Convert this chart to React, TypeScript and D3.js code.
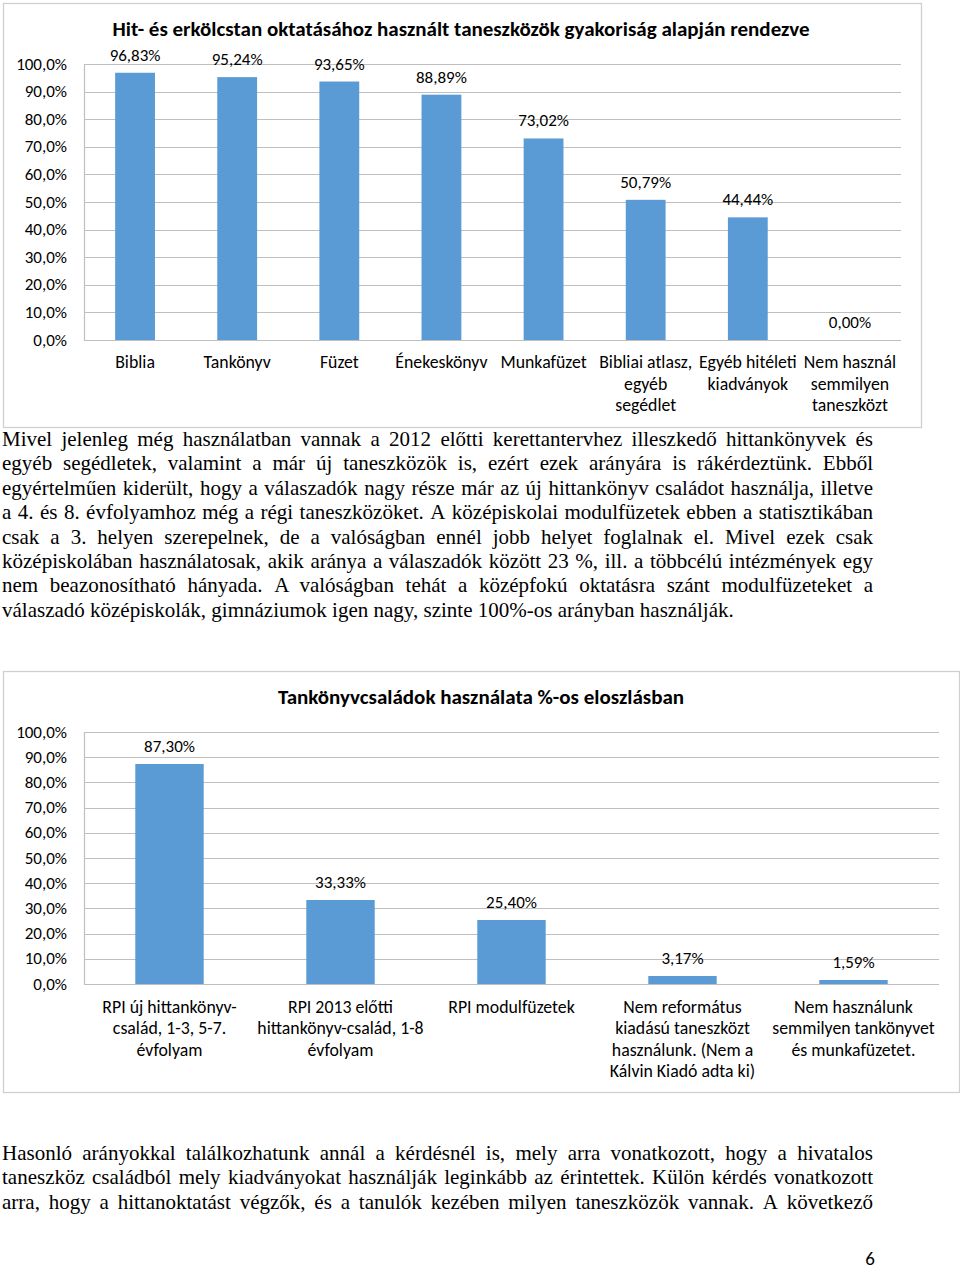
import React, { useEffect, useRef } from "react";
import * as d3 from "d3";

// ---------- DATA ----------
const chart1Title = "Hit- és erkölcstan oktatásához használt taneszközök gyakoriság alapján rendezve";
const chart1Categories: string[][] = [
  ["Biblia"],
  ["Tankönyv"],
  ["Füzet"],
  ["Énekeskönyv"],
  ["Munkafüzet"],
  ["Bibliai atlasz,", "egyéb", "segédlet"],
  ["Egyéb hitéleti", "kiadványok"],
  ["Nem használ", "semmilyen", "taneszközt"],
];
const chart1Values = [96.83, 95.24, 93.65, 88.89, 73.02, 50.79, 44.44, 0.0];

const chart2Title = "Tankönyvcsaládok használata %-os eloszlásban";
const chart2Categories: string[][] = [
  ["RPI új hittankönyv-", "család, 1-3, 5-7.", "évfolyam"],
  ["RPI 2013 előtti", "hittankönyv-család, 1-8", "évfolyam"],
  ["RPI modulfüzetek"],
  ["Nem református", "kiadású taneszközt", "használunk. (Nem a", "Kálvin Kiadó adta ki)"],
  ["Nem használunk", "semmilyen tankönyvet", "és munkafüzetet."],
];
const chart2Values = [87.3, 33.33, 25.4, 3.17, 1.59];

const yTicks = [0, 10, 20, 30, 40, 50, 60, 70, 80, 90, 100];

const para1Lines = [
  "Mivel jelenleg még használatban vannak a 2012 előtti kerettantervhez illeszkedő hittankönyvek és",
  "egyéb segédletek, valamint a már új taneszközök is, ezért ezek arányára is rákérdeztünk. Ebből",
  "egyértelműen kiderült, hogy a válaszadók nagy része már az új hittankönyv családot használja, illetve",
  "a 4. és 8. évfolyamhoz még a régi taneszközöket. A középiskolai modulfüzetek ebben a statisztikában",
  "csak a 3. helyen szerepelnek, de a valóságban ennél jobb helyet foglalnak el. Mivel ezek csak",
  "középiskolában használatosak, akik aránya a válaszadók között 23 %, ill. a többcélú intézmények egy",
  "nem beazonosítható hányada. A valóságban tehát a középfokú oktatásra szánt modulfüzeteket a",
  "válaszadó középiskolák, gimnáziumok igen nagy, szinte 100%-os arányban használják.",
];
const para2Lines = [
  "Hasonló arányokkal találkozhatunk annál a kérdésnél is, mely arra vonatkozott, hogy a hivatalos",
  "taneszköz családból mely kiadványokat használják leginkább az érintettek. Külön kérdés vonatkozott",
  "arra, hogy a hittanoktatást végzők, és a tanulók kezében milyen taneszközök vannak. A következő",
];
const pageNumber = "6";

// ---------- STYLE ----------
const SANS = "Carlito, Calibri, Lato, sans-serif";
const SERIF = "'Liberation Serif', 'Times New Roman', serif";
const BAR = "#5B9BD5";
const GRID = "#BFBFBF";
const FRAME = "#D0D0D0";
const TXT = "#000";
const PARA_SIZE = 21;

type ChartProps = {
  frame: { x: number; y: number; w: number; h: number };
  plot: { left: number; right: number; top: number; bottom: number };
  title: string;
  titleX: number;
  titleY: number;
  titleSize: number;
  categories: string[][];
  values: number[];
  padding: number;
  catY: number;
  catLine: number;
};

function BarChart(p: ChartProps) {
  const x = d3
    .scaleBand<number>()
    .domain(p.values.map((_, i) => i))
    .range([p.plot.left, p.plot.right])
    .paddingInner(p.padding)
    .paddingOuter(p.padding / 2);
  const y = d3.scaleLinear().domain([0, 100]).range([p.plot.bottom, p.plot.top]);
  const fmtTick = (v: number) => v.toFixed(1).replace(".", ",") + "%";
  const fmtVal = (v: number) => v.toFixed(2).replace(".", ",") + "%";
  return (
    <g>
      <rect x={p.frame.x + 0.5} y={p.frame.y + 0.5} width={p.frame.w} height={p.frame.h} fill="#fff" stroke={FRAME} strokeWidth={1.3} />
      <text x={p.titleX} y={p.titleY} textAnchor="middle" fontFamily={SANS} fontWeight="bold" fontSize={p.titleSize} fill={TXT}>
        {p.title}
      </text>
      {yTicks.map((t) => (
        <g key={t}>
          <line x1={p.plot.left} x2={p.plot.right} y1={Math.round(y(t)) + 0.5} y2={Math.round(y(t)) + 0.5} stroke={GRID} strokeWidth={1.2} />
          <text x={p.plot.left - 17} y={y(t) + 5.5} textAnchor="end" fontFamily={SANS} fontSize={17} fill={TXT}>
            {fmtTick(t)}
          </text>
        </g>
      ))}
      <line x1={p.plot.left + 0.5} x2={p.plot.left + 0.5} y1={p.plot.top} y2={p.plot.bottom} stroke={GRID} strokeWidth={1.2} />
      {p.values.map((v, i) => (
        <g key={i}>
          <rect x={x(i)!} y={y(v)} width={x.bandwidth()} height={y(0) - y(v)} fill={BAR} />
          <text x={x(i)! + x.bandwidth() / 2} y={y(v) - 12} textAnchor="middle" fontFamily={SANS} fontSize={17} fill={TXT}>
            {fmtVal(v)}
          </text>
          {p.categories[i].map((ln, k) => (
            <text key={k} x={x(i)! + x.bandwidth() / 2} y={p.catY + k * p.catLine} textAnchor="middle" fontFamily={SANS} fontSize={17.8} fill={TXT}>
              {ln}
            </text>
          ))}
        </g>
      ))}
    </g>
  );
}

function Paragraph({ lines, startY, lineH, left, right, lastJustify }: { lines: string[]; startY: number; lineH: number; left: number; right: number; lastJustify: boolean }) {
  const ref = useRef<SVGGElement>(null);
  useEffect(() => {
    const g = d3.select(ref.current);
    g.selectAll("*").remove();
    lines.forEach((line, li) => {
      const words = line.split(" ");
      const t = g
        .append("text")
        .attr("y", startY + li * lineH)
        .attr("font-family", SERIF)
        .attr("font-size", PARA_SIZE)
        .attr("fill", "#000");
      const justify = li < lines.length - 1 || lastJustify;
      const spans = words.map((w) => t.append("tspan").text(w));
      const widths = spans.map((s) => (s.node() as SVGTSpanElement).getComputedTextLength());
      const total = d3.sum(widths);
      const spaceW = PARA_SIZE * 0.25;
      let gap = justify && words.length > 1 ? (right - left - total) / (words.length - 1) : spaceW;
      let scale = 1;
      if (gap < 2.5) {
        // too tight: compress glyphs slightly
        gap = 2.5;
        scale = (right - left - gap * (words.length - 1)) / total;
      }
      let cx = left;
      spans.forEach((s, i) => {
        s.attr("x", cx);
        if (scale !== 1) s.attr("textLength", widths[i] * scale).attr("lengthAdjust", "spacingAndGlyphs");
        cx += widths[i] * scale + gap;
      });
    });
  }, [lines, startY, lineH, left, right, lastJustify]);
  return <g ref={ref} />;
}

export default function App() {
  return (
    <svg width={960} height={1271} style={{ position: "absolute", left: 0, top: 0, background: "#fff" }}>
      <BarChart
        frame={{ x: 3, y: 3, w: 918, h: 424 }}
        plot={{ left: 84, right: 901, top: 64, bottom: 340 }}
        title={chart1Title}
        titleX={461}
        titleY={36}
        titleSize={21}
        categories={chart1Categories}
        values={chart1Values}
        padding={0.61}
        catY={368}
        catLine={21.5}
      />
      <Paragraph lines={para1Lines} startY={446} lineH={24.4} left={2} right={873} lastJustify={false} />
      <BarChart
        frame={{ x: 3, y: 671, w: 956, h: 421 }}
        plot={{ left: 84, right: 939, top: 732, bottom: 984 }}
        title={chart2Title}
        titleX={481}
        titleY={704}
        titleSize={21}
        categories={chart2Categories}
        values={chart2Values}
        padding={0.6}
        catY={1013}
        catLine={21.3}
      />
      <Paragraph lines={para2Lines} startY={1160} lineH={24.4} left={2} right={873} lastJustify={true} />
      <text x={870} y={1265} textAnchor="middle" fontFamily={SANS} fontSize={19} fill={TXT}>
        {pageNumber}
      </text>
    </svg>
  );
}
